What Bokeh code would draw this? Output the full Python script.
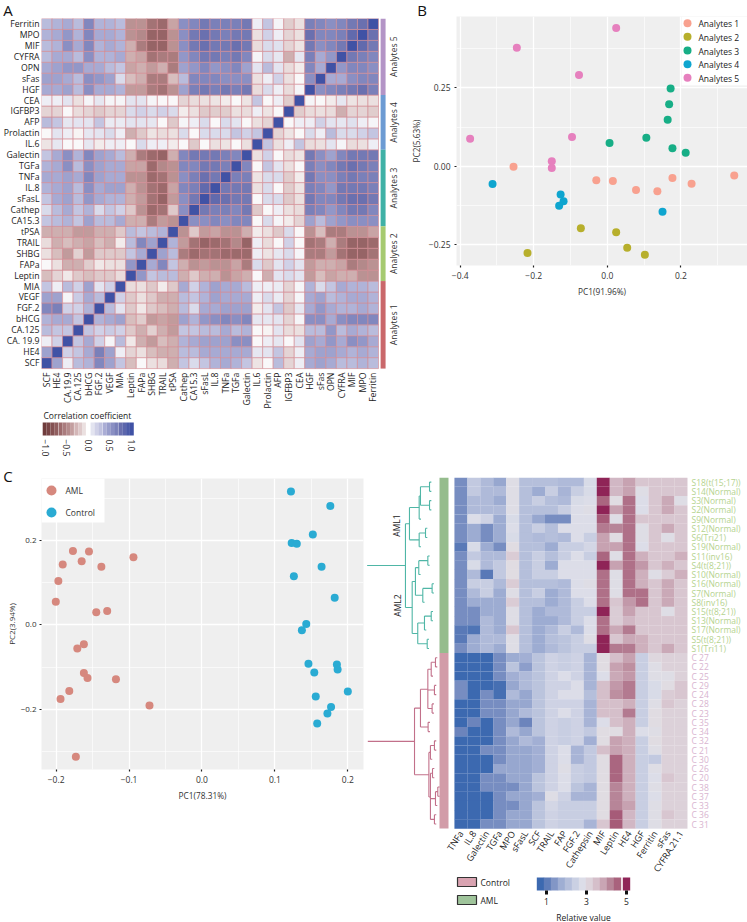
from math import pi
from bokeh.plotting import figure
from bokeh.models import (Range1d, LinearAxis, FixedTicker, LinearColorMapper, Label,
                          ColumnDataSource)
from bokeh.transform import transform
from bokeh.core.properties import value
from bokeh.embed import file_html
from bokeh.resources import INLINE

FONT = "Open Sans"

# ---------- Panel A data ----------
row_labels_a = ["Ferritin", "MPO", "MIF", "CYFRA", "OPN", "sFas", "HGF", "CEA", "IGFBP3", "AFP", "Prolactin",
                "IL.6", "Galectin", "TGFa", "TNFa", "IL.8", "sFasL", "Cathep", "CA15.3", "tPSA", "TRAIL", "SHBG",
                "FAPa", "Leptin", "MIA", "VEGF", "FGF.2", "bHCG", "CA.125", "CA. 19.9", "HE4", "SCF"]
col_labels_a = ["SCF", "HE4", "CA.19.9", "CA.125", "bHCG", "FGF.2", "VEGF", "MIA", "Leptin", "FAPa", "SHBG", "TRAIL",
                "tPSA", "Cathep", "CA15.3", "sFasL", "IL.8", "TNFa", "TGFa", "Galectin", "IL.6", "Prolactin", "AFP",
                "IGFBP3", "CEA", "HGF", "sFas", "OPN", "CYFRA", "MIF", "MPO", "Ferritin"]
c_SCF = [1]
c_HE4 = [.45, 1]
c_CA199 = [.05, .2, 1]
c_CA125 = [.3, .25, .25, 1]
c_bHCG = [.35, .4, .4, .25, 1]
c_FGF2 = [.6, .65, .2, .2, .35, 1]
c_VEGF = [.45, .45, .02, .22, .4, .3, 1]
c_MIA = [.25, .05, .3, .2, .45, .1, .2, 1]
c_Leptin = [-.25, -.15, -.07, -.2, -.25, -.2, -.2, -.12, 1]
c_FAPa = [0, -.1, -.3, -.3, -.18, -.07, -.1, -.1, .5, 1]
c_SHBG = [-.1, -.25, -.4, -.17, -.4, -.2, -.2, -.2, .25, .4, 1]
c_TRAIL = [-.12, -.3, -.25, -.3, -.35, -.25, -.3, -.06, .3, .6, .45, 1]
c_tPSA = [-.3, -.3, -.3, -.4, -.4, -.3, -.3, -.2, .3, .25, .3, .35, 1]
c_CA153 = [.25, .3, .35, .25, .45, .3, .3, .4, -.3, -.3, -.55, -.4, -.45, 1]
c_Cathep = [.15, .3, .4, .25, .35, .15, .25, .2, -.2, -.45, -.65, -.6, -.2, .55, 1]
c_sFasL = [.25, .4, .45, .3, .5, .4, .35, .35, -.3, -.4, -.6, -.7, -.4, .55, .7, 1]
c_IL8 = [.35, .4, .45, .3, .55, .4, .45, .45, -.3, -.45, -.6, -.65, -.35, .6, .65, .8, 1]
c_TNFa = [.4, .4, .45, .4, .6, .45, .4, .4, -.45, -.45, -.65, -.6, -.45, .55, .65, .75, .7, 1]
c_TGFa = [.35, .4, .55, .3, .55, .45, .4, .4, -.35, -.35, -.65, -.5, -.45, .6, .6, .7, .7, .65, 1]
c_Galectin = [.25, .4, .55, .35, .6, .45, .4, .3, -.3, -.55, -.65, -.7, -.3, .6, .7, .7, .7, .65, .6, 1]
c_IL6 = [-.08, .08, 0, 0, .08, -.05, .05, .05, 0, .15, .05, .05, -.05, .01, -.2, 0, -.1, -.08, 0, -.1, 1]
c_Prolactin = [0, .1, .05, -.03, .08, .1, .15, .05, -.3, -.2, -.08, -.12, -.1, .15, 0, .15, .15, .15, .25, .2, .25, 1]
c_AFP = [.3, .25, .08, .1, .1, .25, .07, .07, .1, .1, .08, 0, -.2, .02, .05, .15, 0, .15, .1, 0, -.1, -.15, 1]
c_IGFBP3 = [-.15, -.15, 0, -.12, -.15, -.2, -.15, -.15, .15, .2, .15, .2, .15, -.05, -.1, -.2, -.18, -.18, -.1, -.12,
            .05, -.08, 0, 1]
c_CEA = [.05, .05, .1, -.1, .02, .08, .03, .02, .1, .1, .02, .01, 0, -.15, -.12, -.1, -.08, -.05, 0, -.08, .25, 0,
         .05, -.18, 1]
c_HGF = [.4, .4, .45, .3, .55, .4, .4, .35, -.4, -.4, -.55, -.6, -.45, .45, .65, .7, .65, .7, .65, .7, -.12, .15, .05,
         -.12, .03, 1]
c_sFas = [.45, .45, .4, .3, .55, .5, .45, .15, -.25, -.3, -.55, -.55, -.25, .3, .6, .6, .6, .55, .55, .55, -.1, .05,
          .2, -.1, 0, .55, 1]
c_OPN = [.4, .45, .5, .5, .4, .4, .3, .25, -.35, -.3, -.4, -.3, -.55, .45, .5, .6, .5, .55, .6, .45, .1, .3, .1, -.12,
         -.05, .6, .4, 1]
c_CYFRA = [.3, .4, .4, .3, .55, .35, .35, .4, -.3, -.35, -.6, -.55, -.55, .5, .6, .7, .7, .65, .7, .6, .02, .15, .08,
           -.3, .08, .65, .4, .5, 1]
c_MIF = [.3, .35, .55, .4, .6, .35, .4, .35, -.3, -.55, -.7, -.7, -.45, .55, .7, .75, .7, .7, .75, .7, -.12, .15, .12,
         -.15, -.08, .7, .55, .6, .7, 1]
c_MPO = [.35, .4, .5, .35, .6, .4, .4, .35, -.45, -.5, -.7, -.7, -.45, .55, .7, .75, .7, .65, .7, .7, -.1, .2, .05,
         -.15, -.1, .75, .6, .6, .65, .8, 1]
c_Ferritin = [.3, .35, .4, .3, .6, .35, .35, .3, -.45, -.45, -.6, -.65, -.35, .55, .6, .7, .65, .65, .65, .7, .05, .25,
              .03, -.18, -.1, .65, .6, .55, .6, .7, .75, 1]
corr_rows = [c_SCF, c_HE4, c_CA199, c_CA125, c_bHCG, c_FGF2, c_VEGF, c_MIA, c_Leptin, c_FAPa, c_SHBG, c_TRAIL, c_tPSA,
             c_CA153, c_Cathep, c_sFasL, c_IL8, c_TNFa, c_TGFa, c_Galectin, c_IL6, c_Prolactin, c_AFP, c_IGFBP3, c_CEA,
             c_HGF, c_sFas, c_OPN, c_CYFRA, c_MIF, c_MPO, c_Ferritin]
group_names = ["Analytes 5", "Analytes 4", "Analytes 3", "Analytes 2", "Analytes 1"]
group_sizes = [7, 5, 7, 5, 8]
group_colors = ["#B394C6", "#6C9BD3", "#3FB1A6", "#A6CA70", "#CA686B"]
corr_swatch = [-1.02, -.93, -.84, -.75, -.65, -.56, -.47, -.38, -.28, -.19, -.10,
               .10, .19, .28, .38, .47, .56, .65, .75, .84, .93, 1.02]
corr_ticks = [-1, -.5, 0, .5, 1]
corr_anchor_v = [-1, -.65, -.35, -.1, 0, .1, .35, .6, .75, 1]
corr_anchor_c = ["#6E3B3B", "#9C6A6C", "#C8A4A5", "#EBE0E0", "#FBFAFA", "#E3E4F0", "#B0B3D8", "#8187BE", "#6B71AF", "#3F51A5"]

# ---------- Panel B data ----------
an1_x = [-.255, -.030, .015, .078, .136, .177, .229, .345]
an1_y = [-.002, -.045, -.047, -.076, -.080, -.038, -.056, -.030]
an2_x = [-.217, -.072, .024, .054, .102]
an2_y = [-.277, -.198, -.211, -.260, -.283]
an3_x = [.172, .168, .164, .106, .006, .177, .213]
an3_y = [.248, .198, .148, .091, .074, .057, .043]
an4_x = [-.312, -.127, -.119, -.131, .150]
an4_y = [-.057, -.090, -.112, -.126, -.145]
an5_x = [.024, -.246, -.077, -.373, -.096, -.151, -.151]
an5_y = [.441, .378, .291, .088, .093, .016, -.006]
b_colors = ["#F8A18F", "#B7AF2C", "#17AE86", "#0EA5CF", "#E680BE"]
b_names = ["Analytes 1", "Analytes 2", "Analytes 3", "Analytes 4", "Analytes 5"]

# ---------- Panel C data ----------
aml_x = [-.177, -.155, -.094, -.191, -.165, -.138, -.197, -.2005, -.145, -.130, -.162, -.171, -.162, -.157, -.118,
         -.182, -.194, -.072, -.173]
aml_y = [.175, .174, .160, .143, .151, .138, .104, .055, .030, .033, -.046, -.056, -.114, -.126, -.129, -.157, -.176,
         -.191, -.313]
ctl_x = [.122, .176, .152, .123, .130, .164, .126, .182, .143, .137, .146, .185, .186, .154, .200, .156, .177, .172,
         .158]
ctl_y = [.316, .282, .214, .194, .192, .138, .115, .064, .002, -.013, -.092, -.094, -.106, -.113, -.158, -.170, -.195,
         -.210, -.234]

# ---------- Panel D data ----------
d_cols = ["TNFa", "IL.8", "Galectin", "TGFa", "MPO", "sFasL", "SCF", "TRAIL", "FAP", "FGF.2", "Cathepsin", "MIF",
          "Leptin", "HE4", "HGF", "Ferritin", "sFas", "CYFRA.21.1"]
d_rows_aml = ["S18(t(15;17))", "S14(Normal)", "S3(Normal)", "S2(Normal)", "S9(Normal)", "S12(Normal)", "S6(Tri21)",
              "S19(Normal)", "S11(inv16)", "S4(t(8;21))", "S10(Normal)", "S16(Normal)", "S7(Normal)", "S8(inv16)",
              "S15(t(8;21))", "S13(Normal)", "S17(Normal)", "S5(t(8;21))", "S1(Tri11)"]
d_rows_ctl = ["C 27", "C 22", "C 25", "C 29", "C 24", "C 28", "C 23", "C 35", "C 34", "C 32", "C 21", "C 30", "C 26",
              "C 20", "C 38", "C 37", "C 33", "C 36", "C 31"]
S18 = [1.3, 2.3, 2.0, 1.6, 2.9, 2.1, 2.1, 2.1, 2.0, 2.0, 2.7, 5.0, 3.6, 3.9, 3.4, 3.4, 3.4, 3.4]
S14 = [1.3, 2.3, 2.0, 2.0, 2.9, 2.1, 1.7, 2.4, 1.9, 2.4, 2.7, 5.0, 3.6, 3.9, 2.9, 3.4, 3.4, 3.4]
S3 = [1.3, 2.0, 2.0, 1.7, 2.9, 2.1, 2.4, 2.1, 2.0, 2.7, 2.8, 4.5, 3.0, 4.4, 2.8, 3.4, 3.8, 2.9]
S2 = [1.3, 2.0, 2.0, 2.0, 2.9, 2.1, 2.1, 2.1, 2.4, 2.8, 2.9, 5.0, 3.9, 4.4, 2.8, 3.4, 3.8, 3.4]
S9 = [1.3, 2.8, 2.5, 1.7, 2.7, 2.1, 1.6, 1.3, 1.3, 2.8, 2.8, 4.6, 2.9, 4.4, 3.4, 3.4, 3.4, 3.4]
S12 = [1.3, 1.7, 1.3, 1.7, 2.8, 2.1, 2.4, 2.1, 2.8, 2.8, 2.8, 4.3, 4.2, 4.4, 2.9, 3.4, 3.8, 3.4]
S6 = [1.3, 1.7, 1.3, 1.7, 2.7, 2.1, 2.0, 2.1, 2.0, 2.8, 2.4, 3.9, 3.0, 4.4, 2.9, 3.4, 2.9, 3.4]
S19 = [1.0, 2.7, 1.7, 1.3, 3.0, 2.1, 2.1, 1.7, 2.4, 2.4, 2.6, 3.9, 3.9, 4.4, 2.8, 3.4, 3.4, 3.4]
S11 = [1.3, 2.3, 2.0, 2.0, 3.3, 2.1, 2.4, 2.1, 2.4, 2.8, 2.4, 4.5, 2.9, 4.4, 3.7, 3.4, 3.4, 3.7]
S4 = [1.3, 2.7, 2.0, 2.3, 3.0, 2.1, 2.4, 1.7, 2.8, 2.8, 2.8, 5.0, 3.9, 4.4, 4.0, 3.4, 3.7, 3.4]
S10 = [1.3, 2.0, 1.0, 2.3, 3.0, 2.1, 2.4, 2.4, 2.8, 2.8, 2.8, 4.4, 2.9, 4.4, 3.7, 2.9, 3.3, 3.7]
S16 = [1.3, 2.4, 2.4, 2.0, 3.3, 2.1, 2.1, 2.1, 2.0, 2.8, 2.9, 4.4, 2.9, 4.4, 3.7, 3.4, 3.8, 3.4]
S7 = [1.3, 2.0, 2.4, 1.7, 2.9, 2.1, 2.4, 1.7, 2.0, 2.8, 2.8, 4.4, 2.9, 4.4, 4.4, 3.4, 3.8, 3.4]
S8 = [1.3, 1.7, 1.7, 1.7, 3.3, 2.1, 2.1, 1.7, 2.0, 2.4, 2.8, 4.4, 3.4, 4.0, 4.4, 3.4, 3.8, 3.4]
S15 = [1.3, 1.3, 1.7, 1.7, 2.9, 2.1, 1.7, 2.0, 2.0, 2.4, 2.4, 5.0, 3.3, 3.9, 3.4, 3.4, 2.9, 3.4]
S13 = [1.3, 1.3, 2.0, 1.7, 2.9, 2.1, 1.7, 1.7, 2.0, 2.4, 2.8, 4.4, 3.3, 3.6, 3.4, 3.4, 3.4, 3.4]
S17 = [1.0, .9, 2.0, 1.7, 3.4, 2.1, 1.7, 2.0, 2.4, 2.0, 2.8, 4.4, 3.8, 4.3, 3.4, 3.4, 3.4, 3.4]
S5 = [1.0, 1.7, 2.0, 2.0, 2.9, 2.1, 1.7, 2.1, 2.2, 2.4, 2.9, 5.0, 3.4, 3.8, 3.7, 3.4, 3.4, 3.4]
S1 = [1.3, 1.7, 2.0, 1.7, 2.9, 2.1, 1.7, 2.0, 2.2, 2.4, 2.4, 5.0, 4.3, 4.3, 3.7, 3.4, 3.8, 3.4]
C27 = [.7, .7, .7, 1.3, 1.7, 1.8, 2.2, 2.5, 2.4, 2.5, 1.9, 3.0, 3.5, 3.9, 2.4, 3.1, 3.2, 3.2]
C22 = [.7, .7, .7, 1.3, 2.2, 1.5, 2.2, 2.5, 2.4, 2.5, 1.9, 3.0, 3.9, 4.1, 2.4, 2.9, 3.2, 3.2]
C25 = [.7, .7, .7, 1.3, 1.8, 2.0, 2.2, 2.5, 2.8, 2.5, 1.9, 2.8, 3.8, 4.0, 2.4, 2.9, 2.9, 3.2]
C29 = [1.3, .7, .7, .8, 1.6, 2.0, 2.2, 2.5, 2.5, 2.8, 1.9, 3.5, 4.0, 4.3, 2.4, 2.7, 3.0, 3.4]
C24 = [1.3, .7, 1.3, .8, 2.0, 1.6, 2.2, 2.5, 2.8, 2.8, 2.1, 3.5, 4.1, 4.3, 2.4, 2.7, 3.3, 3.4]
C28 = [.7, .7, 1.3, 1.3, 1.6, 1.6, 2.2, 2.5, 2.5, 2.5, 1.9, 3.5, 3.5, 3.7, 2.4, 2.9, 3.4, 3.2]
C23 = [.7, .7, 1.3, 1.3, 1.6, 2.0, 2.2, 2.5, 2.8, 2.5, 1.9, 3.5, 3.5, 4.3, 2.4, 3.0, 3.2, 3.2]
C35 = [.7, 1.2, .7, 1.3, 1.6, 1.2, 2.2, 2.5, 2.4, 2.5, 1.9, 2.8, 3.5, 3.7, 2.4, 3.0, 3.2, 3.2]
C34 = [1.2, .7, .7, 1.3, 2.0, 1.6, 2.2, 2.5, 2.4, 2.5, 2.3, 3.0, 3.0, 3.7, 2.8, 2.9, 3.2, 3.2]
C32 = [.7, .7, .7, 1.3, 1.6, 2.0, 1.8, 2.5, 2.4, 2.5, 1.8, 3.0, 3.9, 3.7, 2.4, 3.0, 3.2, 3.2]
C21 = [.7, .7, 1.3, 1.3, 1.6, 1.6, 1.8, 2.5, 2.8, 1.9, 2.3, 3.5, 3.9, 3.7, 2.4, 2.9, 3.2, 3.2]
C30 = [.7, .7, .7, 1.3, 1.6, 1.6, 1.8, 2.5, 2.8, 1.9, 2.3, 3.0, 4.5, 3.7, 2.4, 2.3, 3.2, 3.2]
C26 = [.7, .7, .7, 1.6, 1.6, 1.6, 1.8, 2.5, 2.9, 2.4, 2.3, 3.0, 4.5, 3.7, 2.4, 2.9, 3.2, 3.2]
C20 = [.7, .7, 1.3, 1.3, 1.6, 1.6, 2.2, 2.5, 2.8, 2.4, 2.3, 3.0, 4.5, 3.7, 2.4, 2.8, 3.4, 3.2]
C38 = [.7, .7, 1.3, 1.3, 1.3, 1.6, 2.2, 2.5, 2.8, 2.2, 1.9, 3.0, 4.2, 3.7, 2.4, 2.9, 3.2, 3.2]
C37 = [.7, .7, .7, 1.3, 1.6, 1.6, 1.8, 2.9, 2.5, 1.9, 1.9, 3.0, 4.2, 3.7, 2.4, 2.8, 3.2, 3.2]
C33 = [.7, .7, .7, 1.3, 1.3, 1.6, 2.2, 2.6, 2.4, 2.4, 2.4, 3.0, 4.2, 3.9, 2.4, 2.9, 3.2, 3.2]
C36 = [.7, .7, .7, 1.3, 1.6, 1.6, 2.2, 2.5, 2.4, 2.4, 2.4, 3.0, 4.6, 3.6, 2.4, 2.9, 3.4, 3.2]
C31 = [.7, .7, 1.3, 1.3, 1.6, 1.6, 2.2, 2.5, 2.4, 2.4, 1.9, 3.4, 4.6, 3.6, 2.4, 2.9, 3.2, 3.2]
hm_rows = [S18, S14, S3, S2, S9, S12, S6, S19, S11, S4, S10, S16, S7, S8, S15, S13, S17, S5, S1,
           C27, C22, C25, C29, C24, C28, C23, C35, C34, C32, C21, C30, C26, C20, C38, C37, C33, C36, C31]
hm_swatch = [.7, 1.05, 1.4, 1.75, 2.1, 2.45, 2.8, 3.15, 3.5, 3.85, 4.2, 4.55, 5.0]
hm_anchor_v = [.6, 1.2, 1.6, 2, 2.4, 2.8, 3, 3.4, 3.8, 4.2, 4.6, 5]
hm_anchor_c = ["#3465AE", "#6C84BC", "#96A6CF", "#AFBAD9", "#C8CEE2", "#DDDEE8", "#E0DCE2", "#D8C6D0", "#CBAAB8",
               "#B78497", "#A65C78", "#8E2255"]
# dendrograms: (merge height, child, child...), an int child is a heatmap row
tree_aml = (3.79,
            (3.48, (2.73, (2.63, (1.93, 0, 1), (1.93, 2, 3)), 4), (2.73, (2.24, 5, 6), 7)),
            (3.27, (3.02, (2.76, (2.06, 8, 9), 10), (2.45, (1.73, 11, 12), 13)),
             (2.84, (2.32, (1.80, 14, 15), 16), (2.11, 17, 18))))
tree_ctl = (3.09,
            (2.63, (2.06, (1.80, (1.47, 19, 20), 21), (1.55, 22, 23), (1.73, 24, 25)), (2.04, 26, 27)),
            (1.98, (1.86, (1.55, 28, 29), 30),
             (1.86, (1.70, 31, 32), (1.47, (1.29, 33, 34), 35), (1.55, 36, 37))))
panel_letters = ["A", "B", "C"]


def lerp_palette(vals, cols, n=128):
    rgb = [tuple(int(c[i:i + 2], 16) for i in (1, 3, 5)) for c in cols]
    out = []
    for k in range(n):
        v = vals[0] + (vals[-1] - vals[0]) * (k + .5) / n
        for a in range(len(vals) - 1):
            if v <= vals[a + 1]:
                break
        t = (v - vals[a]) / (vals[a + 1] - vals[a])
        out.append("#%02x%02x%02x" % tuple(round(rgb[a][i] + (rgb[a + 1][i] - rgb[a][i]) * t) for i in range(3)))
    return out


def panel(ox, oy, width, height, left, top, right, bottom, xr, yr):
    p = figure(width=width, height=height, x_range=Range1d(*xr), y_range=Range1d(*yr), output_backend="svg",
               toolbar_location=None, min_border_left=left, min_border_top=top, min_border_right=right,
               min_border_bottom=bottom, x_axis_location=None, y_axis_location=None, outline_line_color=None,
               background_fill_color=None, border_fill_color=None,
               styles={"position": "absolute", "left": f"{ox}px", "top": f"{oy}px"})
    p.grid.visible = False
    return p


def plot_px(p, ox, oy):
    """helpers converting window pixels to this panel's data units (for annotations only)"""
    fx0 = ox + p.min_border_left
    fx1 = ox + p.width - p.min_border_right
    fy0 = oy + p.min_border_top
    fy1 = oy + p.height - p.min_border_bottom
    xr, yr = p.x_range, p.y_range
    fx = lambda v: xr.start + (v - fx0) * (xr.end - xr.start) / (fx1 - fx0)
    fy = lambda v: yr.end + (v - fy0) * (yr.start - yr.end) / (fy1 - fy0)
    return fx, fy


def label(p, x, y, text, size="8.5px", color="#222222", align="left", baseline="middle", angle=0):
    p.add_layout(Label(x=x, y=y, text=text, text_font=FONT, text_font_size=size, text_color=color, text_align=align,
                       text_baseline=baseline, angle=angle))


def style_axis(ax, size="8.5px", color="#333333"):
    ax.major_label_text_font = FONT
    ax.major_label_text_font_size = size
    ax.major_label_text_color = color
    ax.axis_label_text_font = FONT
    ax.axis_label_text_font_size = "8.3px"
    ax.axis_label_text_font_style = "normal"
    ax.axis_label_text_color = color
    ax.minor_tick_line_color = None
    ax.axis_line_color = None


def scatter_panel(p, xticks, xminor, yticks, yminor, xlabels, ylabels, xtitle, ytitle):
    p.background_fill_color = "#EFEFEF"
    xa = LinearAxis(ticker=FixedTicker(ticks=xticks, minor_ticks=xminor), major_label_overrides=xlabels, axis_label=xtitle)
    ya = LinearAxis(ticker=FixedTicker(ticks=yticks, minor_ticks=yminor), major_label_overrides=ylabels, axis_label=ytitle)
    for a in (xa, ya):
        style_axis(a)
        a.major_tick_in = 0
        a.major_tick_out = 2
        a.major_tick_line_color = "#222222"
        a.major_tick_line_width = 1.2
        a.major_label_standoff = 2
        a.axis_label_standoff = 4
    p.add_layout(xa, "below")
    p.add_layout(ya, "left")
    p.grid.visible = True
    for g, a in ((p.xgrid, xa), (p.ygrid, ya)):
        g.ticker = a.ticker
        g.grid_line_color = "white"
        g.grid_line_width = 1.3
        g.minor_grid_line_color = "white"
        g.minor_grid_line_width = .6
    return xa, ya


# ---------- Panel A ----------
CW, CH = 10.59, 10.94
A_W, A_H = 400, 480
pa = panel(0, 0, A_W, A_H, 39, 18, 0, 0, (0, (A_W - 39) / CW), ((A_H - 18) / CH, 0))
fxa, fya = plot_px(pa, 0, 0)
n = len(corr_rows)
xs, ys, vs = [], [], []
for i, r_vals in enumerate(corr_rows):
    for j, v in enumerate(r_vals):
        for a, b in {(i, j), (j, i)}:
            xs.append(b + .5)
            ys.append(n - 1 - a + .5)
            vs.append(v)
corr_map = LinearColorMapper(palette=lerp_palette(corr_anchor_v, corr_anchor_c), low=-1, high=1)
pa.rect(x="x", y="y", width=1, height=1, source=ColumnDataSource(dict(x=xs, y=ys, v=vs)),
        fill_color=transform("v", corr_map), line_color="#D58C94", line_width=.8, line_alpha=.8)
ya = LinearAxis(ticker=FixedTicker(ticks=[k + .5 for k in range(n)]),
                major_label_overrides={k + .5: t for k, t in enumerate(row_labels_a)})
style_axis(ya, "8.7px", "#222222")
ya.major_tick_line_color = None
ya.major_tick_in = 0
ya.major_tick_out = 0
ya.major_label_standoff = 2
pa.add_layout(ya, "left")
xa = LinearAxis(ticker=FixedTicker(ticks=[k + .5 for k in range(n)]),
                major_label_overrides={k + .5: t for k, t in enumerate(col_labels_a)},
                fixed_location=n, major_label_orientation=pi / 2)
style_axis(xa, "8.7px", "#222222")
xa.major_tick_line_color = None
xa.major_tick_in = 0
xa.major_tick_out = 0
xa.major_label_standoff = 4
pa.add_layout(xa, "below")
top = 0
for name, size, col in zip(group_names, group_sizes, group_colors):
    pa.quad(left=fxa(380), right=fxa(385), top=top, bottom=top + size, fill_color=col, line_color=None)
    label(pa, fxa(393), top + size / 2, name, "8.5px", "#333333", "center", "middle", pi / 2)
    top += size
label(pa, fxa(41), fya(415), "Correlation coefficient", "8.5px", "#222222")
# correlation colour key, drawn on its own scale
pa.extra_x_ranges["key"] = Range1d(-1 + (39 - 43) / 43, 1 + (400 - 129) / 43)
key_w = corr_swatch[1] - corr_swatch[0]
pa.rect(x="v", y=(fya(422) + fya(435)) / 2, width=key_w, height=fya(435) - fya(422), x_range_name="key",
        source=ColumnDataSource(dict(v=corr_swatch)), fill_color=transform("v", corr_map), line_color=None)
ka = LinearAxis(x_range_name="key", ticker=FixedTicker(ticks=corr_ticks), fixed_location=fya(436),
                major_label_orientation=-pi / 2,
                major_label_overrides={-1: "−1.0", -.5: "−0.5", 0: "0.0", .5: "0.5", 1: "1.0"})
style_axis(ka, "8.5px", "#222222")
ka.major_tick_line_color = None
ka.major_tick_in = 0
ka.major_tick_out = 0
ka.major_label_standoff = 3
pa.add_layout(ka, "below")

# ---------- Panel B ----------
B_W, B_H = 347, 460
pb = panel(400, 0, B_W, B_H, 56, 16, 0, 195, (-.41, .381), (-.317, .478))
fxb, fyb = plot_px(pb, 400, 0)
scatter_panel(pb, [-.4, -.2, 0, .2], [-.3, -.1, .1, .3], [-.25, 0, .25], [-.125, .125, .375],
              {-.4: "−0.4", -.2: "−0.2", 0: "0.0", .2: "0.2"}, {-.25: "−0.25", 0: "0.00", .25: "0.25"},
              "PC1(91.96%)", "PC2(5.63%)")
for xv, yv, col in zip((an1_x, an2_x, an3_x, an4_x, an5_x), (an1_y, an2_y, an3_y, an4_y, an5_y), b_colors):
    pb.scatter(xv, yv, size=8, fill_color=col, line_color=None)
pb.quad(left=fxb(681), right=fxb(747), top=fyb(16), bottom=fyb(85), fill_color="white", line_color=None)
for py, col, name in zip([22.7, 36.3, 50, 63.7, 77.3], b_colors, b_names):
    pb.scatter([fxb(687)], [fyb(py)], size=8, fill_color=col, line_color=None)
    label(pb, fxb(698), fyb(py + .5), name, "8.5px", "#222222")

# ---------- Panel C ----------
C_W, C_H = 365, 462
pc = panel(0, 460, C_W, C_H, 41, 18, 2, 153, (-.2201, .2215), (-.343, .347))
fxc, fyc = plot_px(pc, 0, 460)
cxa, cya = scatter_panel(pc, [-.2, -.1, 0, .1, .2], [-.15, -.05, .05, .15], [-.2, 0, .2], [-.3, -.1, .1, .3],
                         {-.2: "−0.2", -.1: "−0.1", 0: "0.0", .1: "0.1", .2: "0.2"}, {-.2: "−0.2", 0: "0.0", .2: "0.2"},
                         "PC1(78.31%)", "PC2(3.94%)")
cya.axis_label_standoff = 1
cya.major_label_standoff = 1
cya.axis_label_text_font_size = "8px"
cya.major_label_text_font_size = "8px"
pc.scatter(aml_x, aml_y, size=8, fill_color="#D6887E", line_color=None)
pc.scatter(ctl_x, ctl_y, size=8, fill_color="#2AABD3", line_color=None)
pc.quad(left=fxc(41), right=fxc(104), top=fyc(478), bottom=fyc(522), fill_color="white", line_color=None)
pc.scatter([fxc(51)], [fyc(490)], size=10, fill_color="#D6887E", line_color=None)
pc.scatter([fxc(51)], [fyc(512)], size=10, fill_color="#2AABD3", line_color=None)
label(pc, fxc(65), fyc(490), "AML", "8.5px", "#333333")
label(pc, fxc(65), fyc(512), "Control", "8.5px", "#333333")

# ---------- Panel D ----------
DW, DH = 12.94, 9.24
D_W, D_H = 382, 462
pd = panel(365, 460, D_W, D_H, 1, 17, 0, 0, ((366 - 454) / DW, (747 - 454) / DW), ((922 - 477) / DH, 0))
fxd, fyd = plot_px(pd, 365, 460)
hm_map = LinearColorMapper(palette=lerp_palette(hm_anchor_v, hm_anchor_c), low=hm_anchor_v[0], high=hm_anchor_v[-1])
hx, hy, hv = [], [], []
for r, vals in enumerate(hm_rows):
    for c, v in enumerate(vals):
        hx.append(c + .5)
        hy.append(r + .5)
        hv.append(v)
pd.rect(x="x", y="y", width=1.01, height=1.01, source=ColumnDataSource(dict(x=hx, y=hy, v=hv)),
        fill_color=transform("v", hm_map), line_color=None)
bar_l, bar_r = fxd(439), fxd(448)
pd.quad(left=bar_l, right=bar_r, top=0, bottom=len(d_rows_aml), fill_color="#95BC8D", line_color=None)
pd.quad(left=bar_l, right=bar_r, top=len(d_rows_aml), bottom=len(hm_rows), fill_color="#D29CA8", line_color=None)


def tree_segments(node, out):
    if isinstance(node, int):
        return node + .5, None
    h = node[0]
    ys_ = []
    for ch in node[1:]:
        y_, ch_h = tree_segments(ch, out)
        ys_.append(y_)
        end = ch_h if ch_h is not None else h - .14
        out.append((-h, y_, -end, y_))
    out.append((-h, min(ys_), -h, max(ys_)))
    return sum(ys_) / len(ys_), h


for tree, col, stub in ((tree_aml, "#4FB6A6", 6.75), (tree_ctl, "#C2708A", 6.7)):
    segs = []
    y_root, h_root = tree_segments(tree, segs)
    segs.append((-stub, y_root, -h_root, y_root))
    x0, y0, x1, y1 = zip(*segs)
    pd.segment(x0=list(x0), y0=list(y0), x1=list(x1), y1=list(y1), line_color=col, line_width=1.1)

names = d_rows_aml + d_rows_ctl
pd.text(x=[fxd(691)] * len(names), y=[k + .5 for k in range(len(names))], text=names,
        text_color=["#B5D38F"] * len(d_rows_aml) + ["#D8B4CF"] * len(d_rows_ctl),
        text_font=value(FONT), text_font_size="8.5px", text_baseline="middle", text_align="left")
pd.text(x=[fxd(396), fxd(397)], y=[fyd(525), fyd(605)], text=["AML1", "AML2"], angle=pi / 2,
        text_font=value(FONT), text_font_size="8.5px", text_color="#222222", text_baseline="middle", text_align="center")
xb = LinearAxis(ticker=FixedTicker(ticks=[k + .5 for k in range(len(d_cols))]),
                major_label_overrides={k + .5: t for k, t in enumerate(d_cols)},
                fixed_location=len(hm_rows), major_label_orientation=1.0)
style_axis(xb, "9px", "#222222")
xb.major_tick_line_color = None
xb.major_tick_in = 0
xb.major_tick_out = 0
xb.major_label_standoff = 3
pd.add_layout(xb, "below")
# group key
for y0_, y1_, col, name in ((877, 886, "#D9A3B1", "Control"), (895, 904, "#9FC49B", "AML")):
    pd.quad(left=fxd(457), right=fxd(476), top=fyd(y0_), bottom=fyd(y1_), fill_color=col, line_color="#333333",
            line_width=1.2)
    label(pd, fxd(480), fyd((y0_ + y1_) / 2), name, "8.5px", "#222222")
# relative value colour key
pd.extra_x_ranges["rv"] = Range1d(1 + (366 - 546) / 20, 1 + (747 - 546) / 20)
rv_w = hm_swatch[1] - hm_swatch[0]
pd.rect(x="v", y=(fyd(877) + fyd(890)) / 2, width=rv_w + .02, height=fyd(890) - fyd(877), x_range_name="rv",
        source=ColumnDataSource(dict(v=hm_swatch)), fill_color=transform("v", hm_map), line_color=None)
ra = LinearAxis(x_range_name="rv", ticker=FixedTicker(ticks=[1, 3, 5]), fixed_location=fyd(890))
style_axis(ra, "8.5px", "#222222")
ra.major_tick_in = 0
ra.major_tick_out = 4
ra.major_tick_line_color = "#111111"
ra.major_tick_line_width = 3
ra.major_label_standoff = 3
pd.add_layout(ra, "below")
label(pd, fxd(583), fyd(917), "Relative value", "8.5px", "#222222", "center")

# ---------- Panel letters ----------
letters = []
for ch, ox, oy in zip(panel_letters, (2, 416, 2), (0, 0, 466)):
    q = panel(ox, oy, 16, 18, 0, 0, 0, 0, (0, 1), (0, 1))
    q.text(x=[.05], y=[.5], text=[ch], text_font=value(FONT), text_font_size="15px", text_color="#111111",
           text_baseline="middle", text_align="left")
    letters.append(q)

open("out.html", "w").write(file_html([pa, pb, pc, pd] + letters, INLINE))
